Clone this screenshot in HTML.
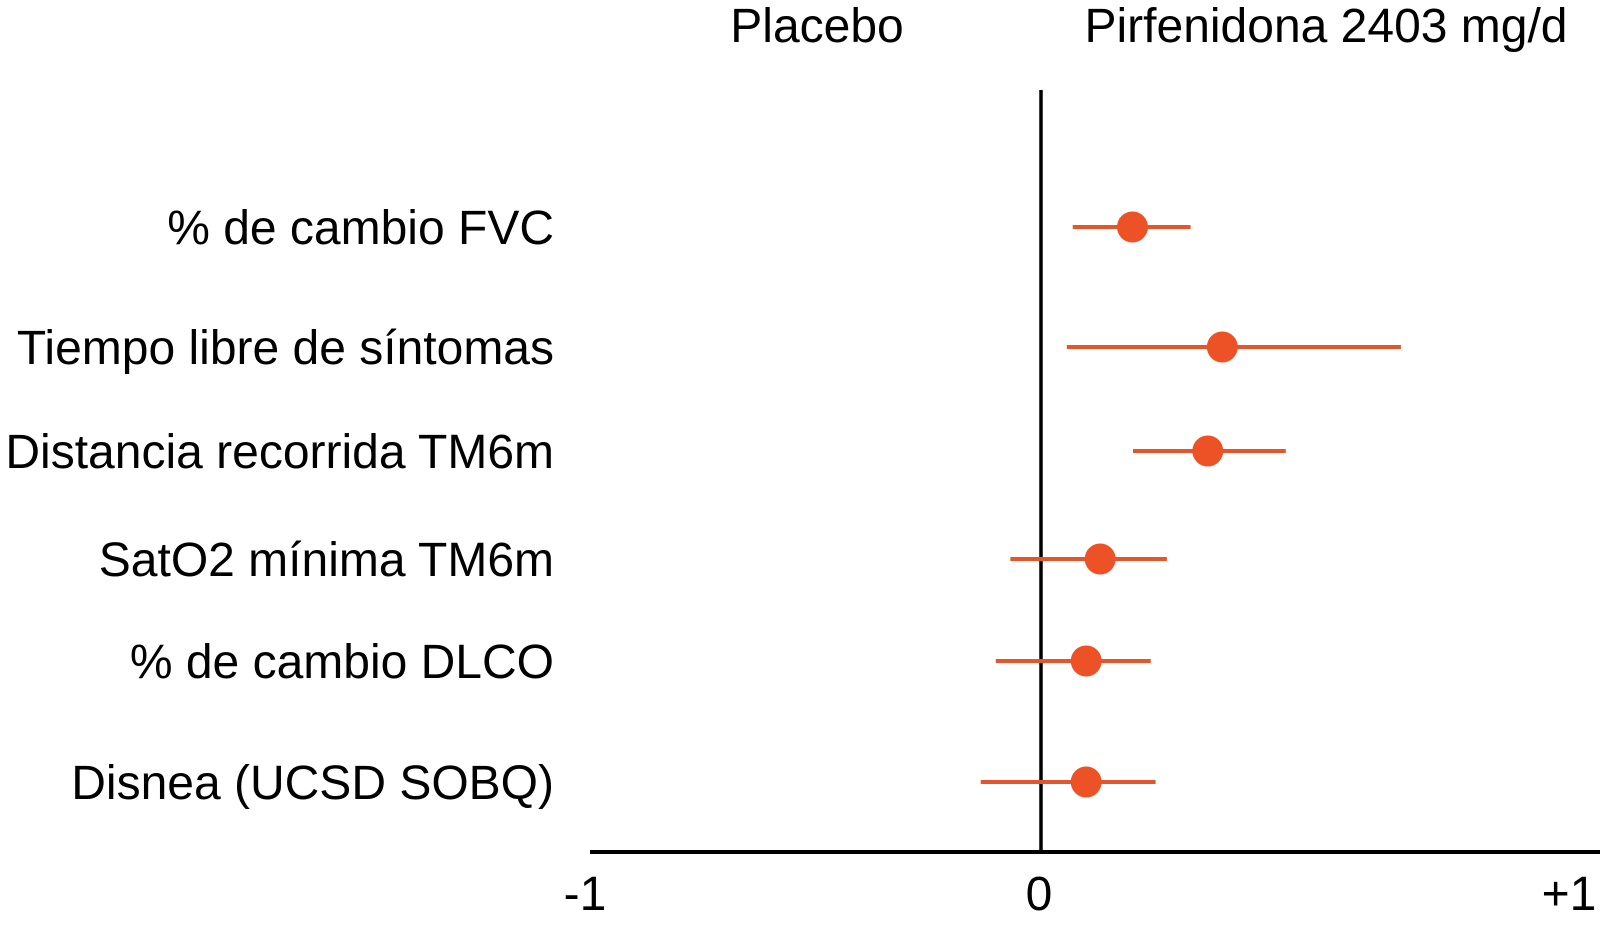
<!DOCTYPE html>
<html><head><meta charset="utf-8"><style>
html,body{margin:0;padding:0;background:#fff;}
svg{display:block;font-family:"Liberation Sans",Arial,sans-serif;}
</style></head><body>
<svg id="chart" width="1608" height="931" viewBox="0 0 1608 931">
<text x="817" y="42" font-size="48" text-anchor="middle" fill="#000">Placebo</text>
<text x="1326" y="42" font-size="48" text-anchor="middle" fill="#000">Pirfenidona 2403 mg/d</text>
<line x1="590" y1="852" x2="1600" y2="852" stroke="#000" stroke-width="4"/>
<line x1="1041" y1="90" x2="1041" y2="852" stroke="#000" stroke-width="3.5"/>
<text x="585" y="910" font-size="48" text-anchor="middle">-1</text>
<g id="ticks"></g>
<g id="rows"></g>
</svg>
<script>
const categories=["% de cambio FVC","Tiempo libre de síntomas","Distancia recorrida TM6m","SatO2 mínima TM6m","% de cambio DLCO","Disnea (UCSD SOBQ)"];
const estimates=[0.17,0.337,0.31,0.11,0.084,0.084];
const lowerCI=[0.059,0.048,0.171,-0.057,-0.084,-0.112];
const upperCI=[0.278,0.669,0.455,0.234,0.204,0.213];
const tickValues=[0,1];
const tickLabels=["0","+1"];
const rowY=[227,347,451,559,661,782];
const NS="http://www.w3.org/2000/svg";
function xs(v){return 1041+v*538;}
const tg=document.getElementById('ticks');
tickValues.forEach((v,i)=>{
  const t=document.createElementNS(NS,'text');
  
  
  t.setAttribute('x',xs(v)-(i===1?10:2));t.setAttribute('y',910);
  t.setAttribute('font-size','48');t.setAttribute('text-anchor','middle');
  t.textContent=tickLabels[i];tg.appendChild(t);
});
const rg=document.getElementById('rows');
categories.forEach((c,i)=>{
  const y=rowY[i];
  const t=document.createElementNS(NS,'text');
  
  
  t.setAttribute('x',554);t.setAttribute('y',y+17);
  t.setAttribute('font-size','48');t.setAttribute('text-anchor','end');
  t.textContent=c;rg.appendChild(t);
  const l=document.createElementNS(NS,'line');
  
  
  l.setAttribute('x1',xs(lowerCI[i]));l.setAttribute('x2',xs(upperCI[i]));
  l.setAttribute('y1',y);l.setAttribute('y2',y);
  l.setAttribute('stroke','#e5552b');l.setAttribute('stroke-width','4');
  rg.appendChild(l);
  const p=document.createElementNS(NS,'circle');
  
  
  p.setAttribute('cx',xs(estimates[i]));p.setAttribute('cy',y);p.setAttribute('r',15.5);
  p.setAttribute('fill','#ec5226');
  rg.appendChild(p);
});
</script>
</body></html>
